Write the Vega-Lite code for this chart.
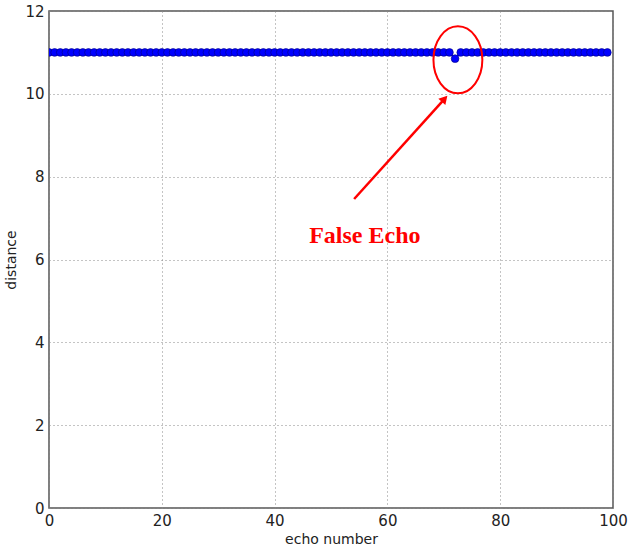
{
  "$schema": "https://vega.github.io/schema/vega-lite/v6.json",
  "width": 564,
  "height": 497,
  "autosize": {"type": "none"},
  "padding": {"left": 49, "top": 11, "right": 15, "bottom": 40},
  "background": "white",
  "config": {
    "view": {"stroke": "#555555", "strokeWidth": 1.5},
    "font": "DejaVu Sans",
    "axis": {
      "grid": true,
      "gridColor": "#888888",
      "gridDash": [1, 3],
      "gridOpacity": 1,
      "gridWidth": 1,
      "domain": false,
      "ticks": false,
      "labelFlush": false,
      "labelOverlap": false,
      "labelFontSize": 15,
      "labelColor": "#222222",
      "labelPadding": 5,
      "titleFontSize": 14,
      "titleFontWeight": "normal",
      "titleColor": "#222222"
    }
  },
  "datasets": {
    "echoes": [
      {"echo": 0, "distance": 11}, {"echo": 1, "distance": 11}, {"echo": 2, "distance": 11}, {"echo": 3, "distance": 11}, {"echo": 4, "distance": 11},
      {"echo": 5, "distance": 11}, {"echo": 6, "distance": 11}, {"echo": 7, "distance": 11}, {"echo": 8, "distance": 11}, {"echo": 9, "distance": 11},
      {"echo": 10, "distance": 11}, {"echo": 11, "distance": 11}, {"echo": 12, "distance": 11}, {"echo": 13, "distance": 11}, {"echo": 14, "distance": 11},
      {"echo": 15, "distance": 11}, {"echo": 16, "distance": 11}, {"echo": 17, "distance": 11}, {"echo": 18, "distance": 11}, {"echo": 19, "distance": 11},
      {"echo": 20, "distance": 11}, {"echo": 21, "distance": 11}, {"echo": 22, "distance": 11}, {"echo": 23, "distance": 11}, {"echo": 24, "distance": 11},
      {"echo": 25, "distance": 11}, {"echo": 26, "distance": 11}, {"echo": 27, "distance": 11}, {"echo": 28, "distance": 11}, {"echo": 29, "distance": 11},
      {"echo": 30, "distance": 11}, {"echo": 31, "distance": 11}, {"echo": 32, "distance": 11}, {"echo": 33, "distance": 11}, {"echo": 34, "distance": 11},
      {"echo": 35, "distance": 11}, {"echo": 36, "distance": 11}, {"echo": 37, "distance": 11}, {"echo": 38, "distance": 11}, {"echo": 39, "distance": 11},
      {"echo": 40, "distance": 11}, {"echo": 41, "distance": 11}, {"echo": 42, "distance": 11}, {"echo": 43, "distance": 11}, {"echo": 44, "distance": 11},
      {"echo": 45, "distance": 11}, {"echo": 46, "distance": 11}, {"echo": 47, "distance": 11}, {"echo": 48, "distance": 11}, {"echo": 49, "distance": 11},
      {"echo": 50, "distance": 11}, {"echo": 51, "distance": 11}, {"echo": 52, "distance": 11}, {"echo": 53, "distance": 11}, {"echo": 54, "distance": 11},
      {"echo": 55, "distance": 11}, {"echo": 56, "distance": 11}, {"echo": 57, "distance": 11}, {"echo": 58, "distance": 11}, {"echo": 59, "distance": 11},
      {"echo": 60, "distance": 11}, {"echo": 61, "distance": 11}, {"echo": 62, "distance": 11}, {"echo": 63, "distance": 11}, {"echo": 64, "distance": 11},
      {"echo": 65, "distance": 11}, {"echo": 66, "distance": 11}, {"echo": 67, "distance": 11}, {"echo": 68, "distance": 11}, {"echo": 69, "distance": 11},
      {"echo": 70, "distance": 11}, {"echo": 71, "distance": 11}, {"echo": 72, "distance": 10.85}, {"echo": 73, "distance": 11}, {"echo": 74, "distance": 11},
      {"echo": 75, "distance": 11}, {"echo": 76, "distance": 11}, {"echo": 77, "distance": 11}, {"echo": 78, "distance": 11}, {"echo": 79, "distance": 11},
      {"echo": 80, "distance": 11}, {"echo": 81, "distance": 11}, {"echo": 82, "distance": 11}, {"echo": 83, "distance": 11}, {"echo": 84, "distance": 11},
      {"echo": 85, "distance": 11}, {"echo": 86, "distance": 11}, {"echo": 87, "distance": 11}, {"echo": 88, "distance": 11}, {"echo": 89, "distance": 11},
      {"echo": 90, "distance": 11}, {"echo": 91, "distance": 11}, {"echo": 92, "distance": 11}, {"echo": 93, "distance": 11}, {"echo": 94, "distance": 11},
      {"echo": 95, "distance": 11}, {"echo": 96, "distance": 11}, {"echo": 97, "distance": 11}, {"echo": 98, "distance": 11}, {"echo": 99, "distance": 11}
    ],
    "circle": [{"echo": 72.5, "distance": 10.82}],
    "arrow": [{"echo": 54.1, "distance": 7.46, "echo2": 70.14, "distance2": 9.88}],
    "arrowhead": [{"echo": 70.14, "distance": 9.88}],
    "label": [{"echo": 56.0, "distance": 6.4, "text": "False Echo"}]
  },
  "encoding": {
    "x": {
      "field": "echo", "type": "quantitative",
      "scale": {"domain": [0, 100], "nice": false, "zero": false},
      "axis": {"values": [0, 20, 40, 60, 80, 100], "title": "echo number", "titlePadding": 4}
    },
    "y": {
      "field": "distance", "type": "quantitative",
      "scale": {"domain": [0, 12], "nice": false, "zero": false},
      "axis": {"values": [0, 2, 4, 6, 8, 10, 12], "title": "distance", "titlePadding": 6}
    }
  },
  "layer": [
    {
      "data": {"name": "echoes"},
      "mark": {"type": "line", "color": "#0000ff", "strokeWidth": 1.5, "clip": true}
    },
    {
      "data": {"name": "echoes"},
      "mark": {"type": "point", "shape": "circle", "filled": true, "fill": "#0000ff", "stroke": "#00007a", "strokeWidth": 0.6, "size": 60, "opacity": 1, "clip": true}
    },
    {
      "data": {"name": "circle"},
      "mark": {"type": "point", "shape": "M-0.73,0A0.73,1 0 1,1 0.73,0A0.73,1 0 1,1 -0.73,0Z", "filled": false, "stroke": "#ff0000", "strokeWidth": 2, "size": 4489, "opacity": 1}
    },
    {
      "data": {"name": "arrow"},
      "mark": {"type": "rule", "color": "#ff0000", "strokeWidth": 2.5},
      "encoding": {
        "x2": {"field": "echo2"},
        "y2": {"field": "distance2"}
      }
    },
    {
      "data": {"name": "arrowhead"},
      "mark": {"type": "point", "shape": "triangle-up", "filled": true, "fill": "#ff0000", "stroke": null, "size": 90, "angle": 42, "opacity": 1}
    },
    {
      "data": {"name": "label"},
      "mark": {"type": "text", "font": "Liberation Serif", "fontWeight": "bold", "fontSize": 24, "color": "#ff0000", "align": "center", "baseline": "alphabetic"},
      "encoding": {"text": {"field": "text"}}
    }
  ]
}
